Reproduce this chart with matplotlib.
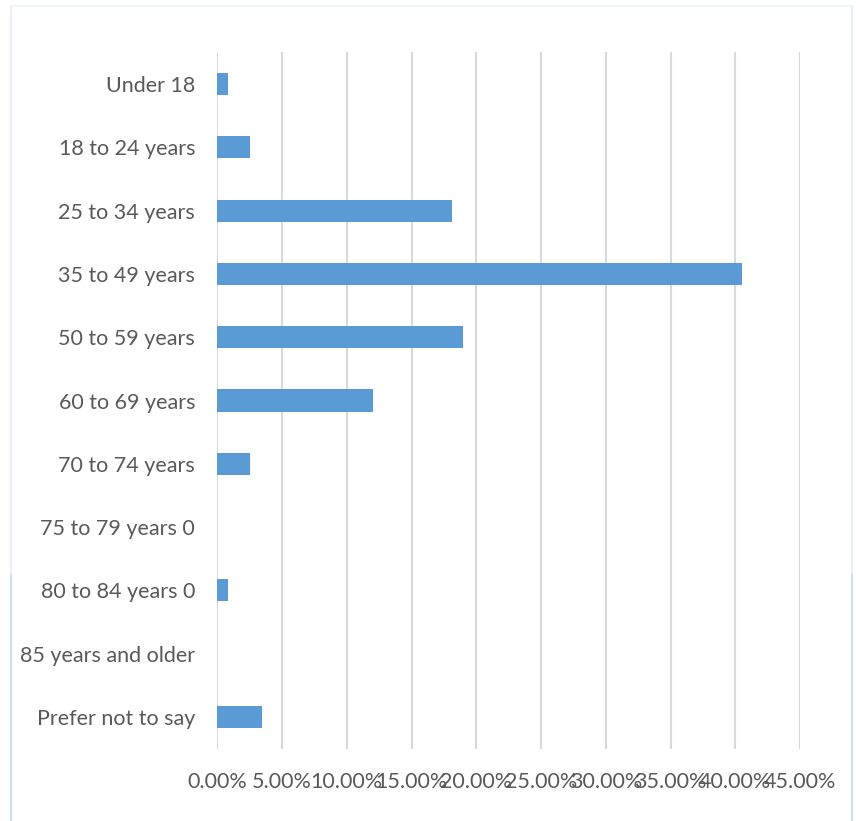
import matplotlib.pyplot as plt
from matplotlib.lines import Line2D
from matplotlib.ticker import FuncFormatter

plt.rcParams['font.family'] = ['Lato', 'DejaVu Sans']

# data (percent of respondents)
categories = ['Under 18', '18 to 24 years', '25 to 34 years', '35 to 49 years',
              '50 to 59 years', '60 to 69 years', '70 to 74 years',
              '75 to 79 years 0', '80 to 84 years 0', '85 years and older',
              'Prefer not to say']
values = [0.85, 2.55, 18.1, 40.5, 19.0, 12.0, 2.55, 0, 0.85, 0, 3.45]
xticks = [0, 5, 10, 15, 20, 25, 30, 35, 40, 45]

W, H = 856, 821
fig = plt.figure(figsize=(W / 100, H / 100), dpi=100)
ax = fig.add_axes([217.3 / W, 1 - 748.5 / H, (800 - 217.3) / W, (748.5 - 52.5) / H])

ax.barh(range(len(categories)), values, height=0.35, color='#5b9bd5',
        linewidth=0, zorder=3)
ax.set_ylim(len(categories) - 0.5, -0.5)
ax.set_xlim(0, 45)
ax.set_yticks(range(len(categories)))
ax.set_yticklabels(categories)
ax.set_xticks(xticks)
ax.xaxis.set_major_formatter(FuncFormatter(lambda v, p: f'{v:.2f}%'))
ax.grid(axis='x', color='#d9d9d9', linewidth=1.5, zorder=0)
ax.tick_params(axis='both', length=0, colors='#595959', labelsize=15.5)
ax.tick_params(axis='y', pad=16)
ax.tick_params(axis='x', pad=17)
for s in ax.spines.values():
    s.set_visible(False)

# faint outer frame of the chart area
fx0, fx1, fy0 = 10.5 / W, 852 / W, 1 - 6.5 / H
fig.add_artist(Line2D([fx0, fx1], [fy0, fy0], color='#eef4fc', lw=1.2))
fig.add_artist(Line2D([fx0, fx0], [0, fy0], color='#e3eefa', lw=1.2))
fig.add_artist(Line2D([fx1, fx1], [0, fy0], color='#e3eefa', lw=1.2))
fig.add_artist(Line2D([fx0, fx0], [0, 0.3], color='#c9dff5', lw=1.5))
fig.add_artist(Line2D([fx1, fx1], [0, 0.3], color='#c9dff5', lw=1.5))

fig.savefig('out.png', dpi=100)
